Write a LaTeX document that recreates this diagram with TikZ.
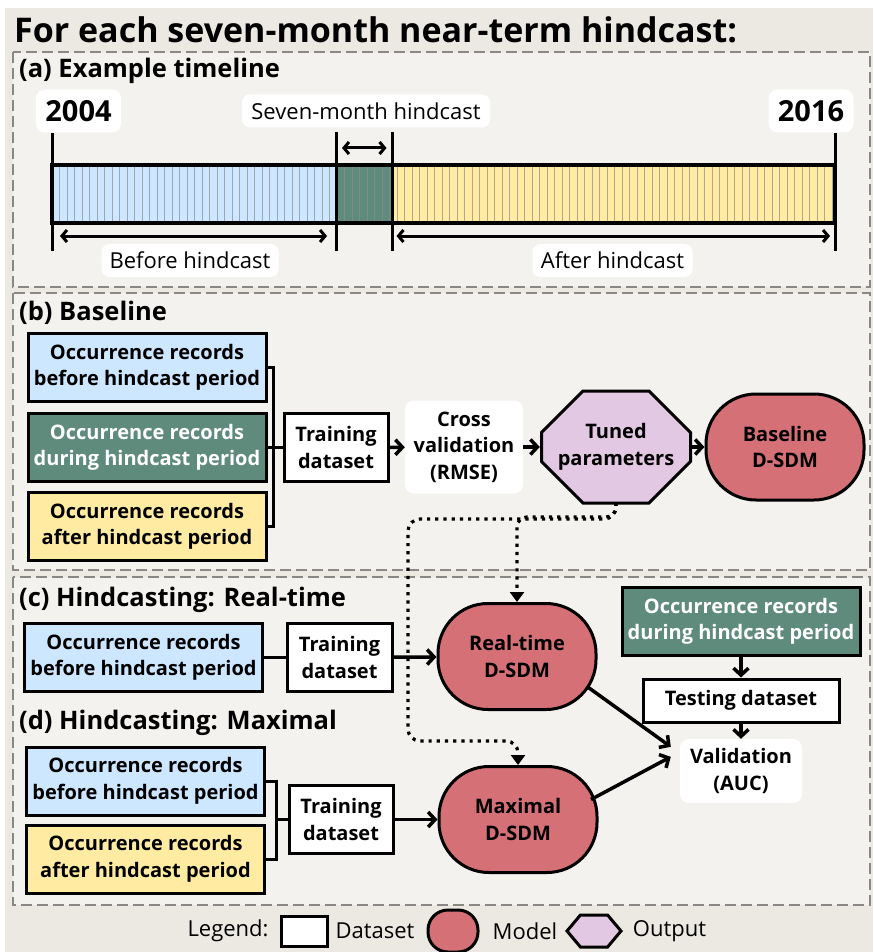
\documentclass[tikz,border=0pt]{standalone}
\usepackage{fontspec}
\setmainfont{Open Sans}
\usetikzlibrary{arrows.meta,shapes.symbols,calc}

\definecolor{outerbg}{HTML}{ECE8E2}
\definecolor{panelbg}{HTML}{F4F2EE}
\definecolor{dashgray}{HTML}{8A8884}
\definecolor{recblue}{HTML}{CCE7FF}
\definecolor{recgreen}{HTML}{5E8B7C}
\definecolor{recyellow}{HTML}{FFEBA1}
\definecolor{modelred}{HTML}{D57076}
\definecolor{outlilac}{HTML}{E2C8E3}

\newcommand\recfont{\bfseries\fontsize{20}{26.5}\selectfont}
\newcommand\legfont{\fontsize{22}{26}\selectfont}

\tikzset{
  panel/.style={draw=dashgray, fill=panelbg, line width=2.5pt, dash pattern=on 11pt off 5pt},
  paneltitle/.style={anchor=west, inner sep=0pt, font=\bfseries\fontsize{25.5}{29}\selectfont},
  barpart/.style={inner sep=0pt, outer sep=0pt, minimum height=58pt},
  tickline/.style={line width=3pt},
  spanarrow/.style={line width=3pt, {Straight Barb[length=5pt,width=12pt]}-{Straight Barb[length=5pt,width=12pt]}},
  yeartag/.style={fill=white, rounded corners=9pt, minimum height=43pt, minimum width=85pt, font=\bfseries\fontsize{29}{32}\selectfont},
  spantag/.style={fill=white, rounded corners=8pt, minimum height=33pt, font=\fontsize{22}{26}\selectfont},
  record/.style={draw, line width=3pt, minimum width=238pt, minimum height=68pt, inner sep=2pt, align=center, font=\recfont},
  dataset/.style={draw, fill=white, line width=3pt, minimum width=104pt, minimum height=68pt, inner sep=2pt, align=center, font=\recfont},
  model/.style={draw, fill=modelred, line width=3pt, rounded corners=50pt, minimum width=158pt, minimum height=106pt, align=center, font=\recfont},
  octagon/.style={minimum width=152pt, minimum height=115pt, inner sep=0pt, align=center, font=\recfont,
    path picture={
      \draw[line width=3pt, fill=outlilac]
        ([xshift=43pt,yshift=-1.5pt]path picture bounding box.north west) --
        ([xshift=-43pt,yshift=-1.5pt]path picture bounding box.north east) --
        ([xshift=-1.5pt,yshift=-43pt]path picture bounding box.north east) --
        ([xshift=-1.5pt,yshift=43pt]path picture bounding box.south east) --
        ([xshift=-43pt,yshift=1.5pt]path picture bounding box.south east) --
        ([xshift=43pt,yshift=1.5pt]path picture bounding box.south west) --
        ([xshift=1.5pt,yshift=43pt]path picture bounding box.south west) --
        ([xshift=1.5pt,yshift=-43pt]path picture bounding box.north west) -- cycle;
    }},
  whitebox/.style={fill=white, rounded corners=9pt, align=center, font=\recfont},
  link/.style={line width=3pt},
  flow/.style={line width=3.5pt, -{Straight Barb[length=7pt,width=15pt]}},
  hint/.style={line width=3.2pt, dash pattern=on 3.2pt off 5pt, -{Triangle[length=10pt,width=14pt]}},
}

\begin{document}
\begin{tikzpicture}[x=1pt,y=-1pt]
\useasboundingbox (0,0) rectangle (873,952);
\fill[white] (0,0) rectangle (873,952);
\fill[outerbg] (5,8) rectangle (873,952);
\draw[panel] (13,52) rectangle (870,287);
\draw[panel] (13,293) rectangle (870,570);
\draw[panel] (13,577) rectangle (870,905);

\node[anchor=west, inner sep=0pt, font=\bfseries\fontsize{34}{38}\selectfont] (title) at (14,30) {For each seven-month near-term hindcast:};

% (a) timeline
\node[paneltitle] (lbla) at (19,71) {(a) Example timeline};
\node[barpart, fill=recblue, minimum width=284pt] (before) at (194,194) {};
\node[barpart, fill=recgreen, minimum width=56.5pt] (hind) at (364.25,194) {};
\node[barpart, fill=recyellow, minimum width=442.5pt] (after) at (613.75,194) {};
\foreach \x in {59.5,67,...,832}
  \draw[black!45, opacity=.7, line width=1pt] (\x,167) -- (\x,221);
\draw[line width=4pt] (before.north west) rectangle (after.south east);
\draw[tickline] ([yshift=32pt]before.north west) -- ([yshift=-28pt]before.south west);
\draw[tickline] ([yshift=33pt]hind.north west) -- ([yshift=-28pt]hind.south west);
\draw[tickline] ([yshift=33pt]hind.north east) -- ([yshift=-28pt]hind.south east);
\draw[tickline] ([yshift=32pt]after.north east) -- ([yshift=-28pt]after.south east);
\draw[spanarrow] ([xshift=6pt,yshift=17pt]hind.north west) -- ([xshift=-6pt,yshift=17pt]hind.north east);
\draw[spanarrow] ([xshift=8pt,yshift=-13pt]before.south west) -- ([xshift=-9pt,yshift=-13pt]before.south east);
\draw[spanarrow] ([xshift=4pt,yshift=-13pt]after.south west) -- ([xshift=-5pt,yshift=-13pt]after.south east);
\node[yeartag] (yr1) at (78.5,111) {2004};
\node[yeartag] (yr2) at (811,111) {2016};
\node[spantag, minimum width=248pt] (hindtag) at (366,111) {Seven-month hindcast};
\node[spantag, minimum width=177pt] (beforetag) at (190,260.5) {Before hindcast};
\node[spantag, minimum width=160pt] (aftertag) at (612.5,260.5) {After hindcast};

% (b) baseline
\node[paneltitle] (lblb) at (19,313) {(b) Baseline};
\node[record, fill=recblue] (recb1) at (147,367.5) {Occurrence records\\before hindcast period};
\node[record, fill=recgreen, text=white] (recb2) at (147,447.5) {Occurrence records\\during hindcast period};
\node[record, fill=recyellow] (recb3) at (147,526.5) {Occurrence records\\after hindcast period};
\coordinate (joinb) at (273,447.5);
\draw[link] (recb1.east) -| (joinb) |- (recb3.east);
\node[dataset] (trainb) at (336,447.5) {Training\\dataset};
\draw[link] (recb2.east) -- (trainb.west);
\node[whitebox, minimum width=118pt, minimum height=93pt] (cv) at (464,447) {Cross\\validation\\(RMSE)};
\node[octagon] (tuned) at (616,447) {Tuned\\parameters};
\node[model] (basem) at (785,447) {Baseline\\D-SDM};
\draw[flow] (trainb) -- (cv);
\draw[flow] (cv) -- (tuned);
\draw[flow] (tuned) -- (basem);

% (c) real-time
\node[paneltitle] (lblc) at (19,600) {(c) Hindcasting: Real-time};
\node[record, fill=recblue] (recc) at (143.5,657.5) {Occurrence records\\before hindcast period};
\node[dataset, minimum width=105pt] (trainc) at (339.5,657.5) {Training\\dataset};
\draw[link] (recc) -- (trainc);
\node[model] (realtime) at (517,656.5) {Real-time\\D-SDM};
\draw[flow] (trainc) -- (realtime);
\node[record, fill=recgreen, text=white] (recval) at (741,621.5) {Occurrence records\\during hindcast period};
\node[dataset, minimum width=196pt, minimum height=43pt] (testset) at (741,700.5) {Testing dataset};
\node[whitebox, minimum width=122pt, minimum height=64pt] (valid) at (741,771) {Validation\\(AUC)};
\draw[flow] (recval) -- (testset);
\draw[flow] (testset) -- (valid);

% (d) maximal
\node[paneltitle] (lbld) at (19,723) {(d) Hindcasting: Maximal};
\node[record, fill=recblue] (recd1) at (145.5,781) {Occurrence records\\before hindcast period};
\node[record, fill=recyellow] (recd2) at (145.5,859) {Occurrence records\\after hindcast period};
\coordinate (joind) at (276,819.5);
\draw[link] (recd1.east) -| (joind) |- (recd2.east);
\node[dataset] (traind) at (341,819.5) {Training\\dataset};
\draw[link] (joind) -- (traind);
\node[model] (maximal) at (518,819.5) {Maximal\\D-SDM};
\draw[flow] (traind) -- (maximal);

% into validation
\draw[flow] ($(realtime.center)+(70,30)$) -- ($(valid.north west)+(-9,8)$);
\draw[flow] ($(maximal.center)+(73,-20)$) -- ($(valid.north west)+(-9,18)$);

% tuned parameters reused
\coordinate (detour) at (408,519);
\draw[hint, rounded corners=10pt] ([yshift=2pt]tuned.south) |- ($(realtime.north)+(0,-85)$) -- (realtime.north);
\draw[hint, rounded corners=12pt] ([yshift=2pt]tuned.south) |- (detour) |- ($(maximal.north)+(0,-24)$) -- (maximal.north);

% legend
\node[font=\legfont] (leg) at (228,931) {Legend:};
\node[draw, fill=white, line width=3pt, minimum width=46pt, minimum height=30pt] (legdata) at (304.5,931) {};
\node[font=\legfont] (legdatatxt) at (375,931) {Dataset};
\node[model, minimum width=50pt, minimum height=42pt, rounded corners=20pt] (legmodel) at (453,931) {};
\node[font=\legfont] (legmodeltxt) at (525,931) {Model};
\node[draw, fill=outlilac, line width=3pt, signal, signal to=west and east, signal pointer angle=100,
  minimum width=54pt, minimum height=32pt, inner sep=0pt] (legout) at (594,931) {};
\node[font=\legfont] (legouttxt) at (669.5,931) {Output};
\end{tikzpicture}
\end{document}
